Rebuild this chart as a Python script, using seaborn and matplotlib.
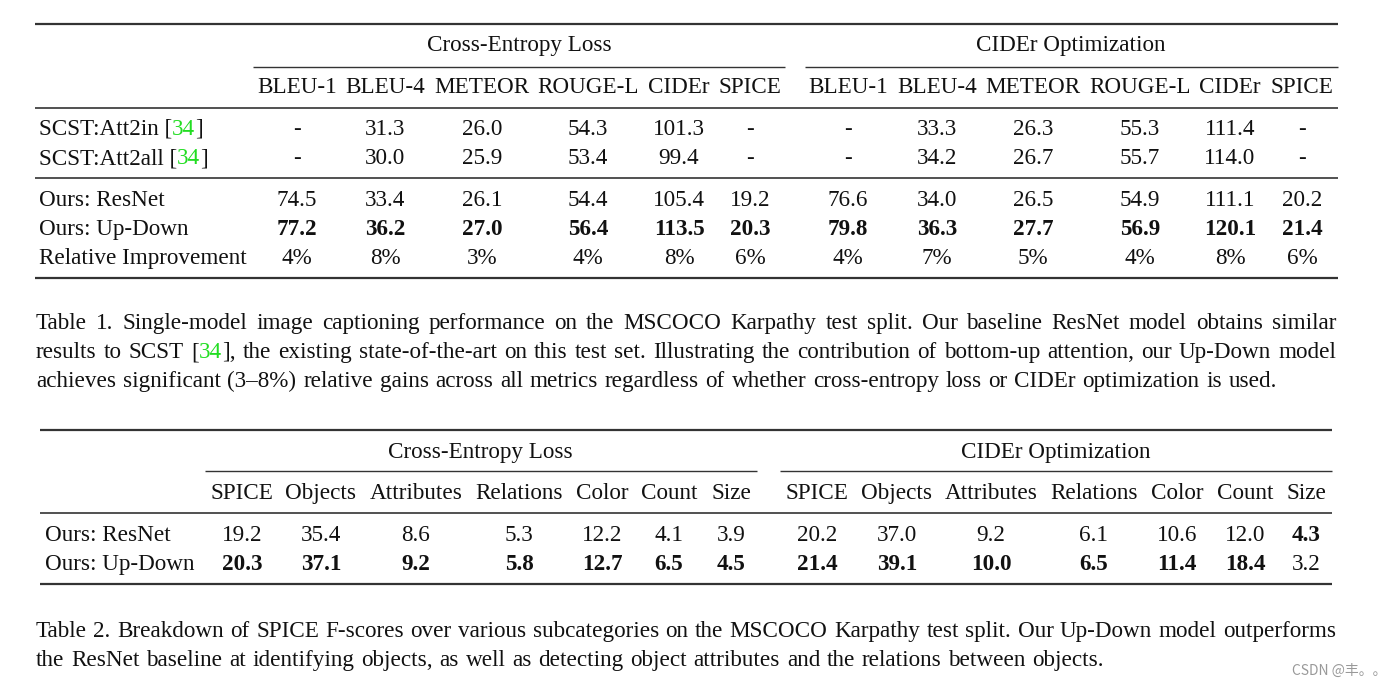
import seaborn as sns
import matplotlib
matplotlib.use("Agg")
import matplotlib.pyplot as plt

# ---------------- data ----------------
t1_groups = ["Cross-Entropy Loss", "CIDEr Optimization"]
t1_metrics = ["BLEU-1", "BLEU-4", "METEOR", "ROUGE-L", "CIDEr", "SPICE"]
t1_rows = ["SCST:Att2in", "SCST:Att2all", "Ours: ResNet", "Ours: Up-Down", "Relative Improvement"]
t1_att2in = ["-", "31.3", "26.0", "54.3", "101.3", "-", "-", "33.3", "26.3", "55.3", "111.4", "-"]
t1_att2all = ["-", "30.0", "25.9", "53.4", "99.4", "-", "-", "34.2", "26.7", "55.7", "114.0", "-"]
t1_resnet = ["74.5", "33.4", "26.1", "54.4", "105.4", "19.2", "76.6", "34.0", "26.5", "54.9", "111.1", "20.2"]
t1_updown = ["77.2", "36.2", "27.0", "56.4", "113.5", "20.3", "79.8", "36.3", "27.7", "56.9", "120.1", "21.4"]
t1_improve = ["4%", "8%", "3%", "4%", "8%", "6%", "4%", "7%", "5%", "4%", "8%", "6%"]

t2_groups = ["Cross-Entropy Loss", "CIDEr Optimization"]
t2_metrics = ["SPICE", "Objects", "Attributes", "Relations", "Color", "Count", "Size"]
t2_rows = ["Ours: ResNet", "Ours: Up-Down"]
t2_resnet = ["19.2", "35.4", "8.6", "5.3", "12.2", "4.1", "3.9", "20.2", "37.0", "9.2", "6.1", "10.6", "12.0", "4.3"]
t2_updown = ["20.3", "37.1", "9.2", "5.8", "12.7", "6.5", "4.5", "21.4", "39.1", "10.0", "6.5", "11.4", "18.4", "3.2"]
t2_resnet_bold = [False] * 13 + [True]
t2_updown_bold = [True] * 13 + [False]

caption1 = [
    "Table 1. Single-model image captioning performance on the MSCOCO Karpathy test split.  Our baseline ResNet model obtains similar",
    "results to SCST [34], the existing state-of-the-art on this test set. Illustrating the contribution of bottom-up attention, our Up-Down model",
    "achieves significant (3\u20138%) relative gains across all metrics regardless of whether cross-entropy loss or CIDEr optimization is used.",
]
caption2 = [
    "Table 2. Breakdown of SPICE F-scores over various subcategories on the MSCOCO Karpathy test split. Our Up-Down model outperforms",
    "the ResNet baseline at identifying objects, as well as detecting object attributes and the relations between objects.",
]

# ---------------- style ----------------
sns.set_theme(style="white")
plt.rcParams["font.family"] = ["Liberation Serif", "DejaVu Serif"]

FS = 16.7
INK = "#111111"
RULE = "#333333"
CITE = "#22dd22"

fig = plt.figure(figsize=(13.96, 6.87), dpi=100)
ax = fig.add_axes([0, 0, 1, 1])
ax.set_xlim(0, 1396)
ax.set_ylim(687, 0)
ax.axis("off")


def txt(x, y, s, bold=False, ha="center", color=INK, fs=FS):
    # y is the baseline in pixels from the top
    return ax.text(x, y, s, ha=ha, va="baseline", fontsize=fs, color=color,
                   fontweight="bold" if bold else "normal")


def cite_label(x, y, name):
    # row label like "SCST:Att2in [34]" with green citation number
    r = fig.canvas.get_renderer()
    t = txt(x, y, name + " [", ha="left")
    w = t.get_window_extent(r).width
    t2 = txt(x + w, y, "34", ha="left", color=CITE)
    w2 = t2.get_window_extent(r).width
    txt(x + w + w2, y, "]", ha="left")


def caption_line(y, x0, x1, line, justify):
    r = fig.canvas.get_renderer()
    words = line.split()
    objs = []
    widths = []
    for wd in words:
        if wd == "[34],":
            parts = [("[", INK), ("34", CITE), ("],", INK)]
        else:
            parts = [(wd, INK)]
        group = []
        wsum = 0
        for s, c in parts:
            t = txt(0, y, s, ha="left", color=c)
            ww = t.get_window_extent(r).width
            group.append((t, ww))
            wsum += ww
        objs.append(group)
        widths.append(wsum)
    space = FS * 100 / 72 * 0.29
    if justify and len(words) > 1:
        space = (x1 - x0 - sum(widths)) / (len(words) - 1)
    x = x0
    for group, wsum in zip(objs, widths):
        xx = x
        for t, ww in group:
            t.set_x(xx)
            xx += ww
        x += wsum + space


fig.canvas.draw()

# ---------------- table 1 ----------------
t1_cols = [297, 385, 482, 588, 679, 750, 848, 937, 1033, 1140, 1230, 1302]
ax.hlines(24, 35, 1338, color=RULE, lw=1.6)
txt(519, 51, t1_groups[0])
txt(1071, 51, t1_groups[1])
ax.hlines(67, 253, 785, color=RULE, lw=1.0)
ax.hlines(67, 805, 1338, color=RULE, lw=1.0)
for i, x in enumerate(t1_cols):
    txt(x, 93, t1_metrics[i % 6])
ax.hlines(108, 35, 1338, color=RULE, lw=1.2)

cite_label(39, 135, t1_rows[0])
cite_label(39, 164, t1_rows[1])
for x, a, b in zip(t1_cols, t1_att2in, t1_att2all):
    txt(x, 135, a)
    txt(x, 164, b)
ax.hlines(178, 35, 1338, color=RULE, lw=1.2)

txt(39, 206, t1_rows[2], ha="left")
txt(39, 235, t1_rows[3], ha="left")
txt(39, 264, t1_rows[4], ha="left")
for x, a, b, c in zip(t1_cols, t1_resnet, t1_updown, t1_improve):
    txt(x, 206, a)
    txt(x, 235, b, bold=True)
    txt(x, 264, c)
ax.hlines(278, 35, 1338, color=RULE, lw=1.6)

for k, line in enumerate(caption1):
    caption_line(329 + 29 * k, 36, 1336, line, justify=k < 2)

# ---------------- table 2 ----------------
t2_cols = [242, 321, 416, 519, 602, 669, 731, 817, 897, 991, 1094, 1177, 1245, 1306]
ax.hlines(430, 40, 1332, color=RULE, lw=1.6)
txt(480, 458, t2_groups[0])
txt(1056, 458, t2_groups[1])
ax.hlines(471, 205, 757, color=RULE, lw=1.0)
ax.hlines(471, 780, 1332, color=RULE, lw=1.0)
for i, x in enumerate(t2_cols):
    txt(x, 499, t2_metrics[i % 7])
ax.hlines(513, 40, 1332, color=RULE, lw=1.2)

txt(45, 541, t2_rows[0], ha="left")
txt(45, 570, t2_rows[1], ha="left")
for x, a, b, ba, bb in zip(t2_cols, t2_resnet, t2_updown, t2_resnet_bold, t2_updown_bold):
    txt(x, 541, a, bold=ba)
    txt(x, 570, b, bold=bb)
ax.hlines(584, 40, 1332, color=RULE, lw=1.6)

for k, line in enumerate(caption2):
    caption_line(637 + 29 * k, 36, 1336, line, justify=k < 1)

# watermark
ax.text(1386, 675, "CSDN @丰。。", ha="right", va="baseline", fontsize=10, color="#999999",
        family=["Noto Sans CJK SC", "DejaVu Sans"])

fig.savefig("out.png", dpi=100, facecolor="white")
